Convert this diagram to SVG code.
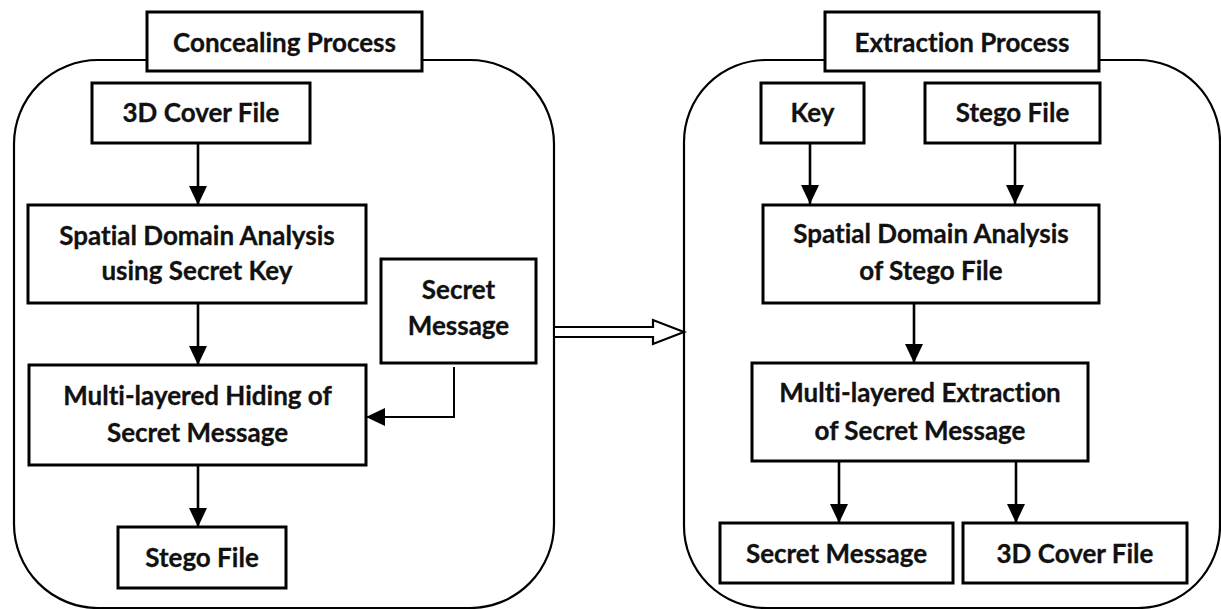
<svg xmlns="http://www.w3.org/2000/svg" width="1221" height="609" viewBox="0 0 1221 609">
  <style>
    .panel { fill: none; stroke: #000; stroke-width: 2.2; }
    .box { fill: #fff; stroke: #000; stroke-width: 3; }
    .lbl { font-family: Lato, "Liberation Sans", sans-serif; font-weight: bold; font-size: 26px; fill: #111; text-anchor: middle; font-variant-ligatures: none; stroke: #111; stroke-width: 0.3; }
    .link { fill: none; stroke: #000; stroke-width: 2.6; }
    .thin { fill: none; stroke: #000; stroke-width: 2; }
    .hollow { fill: #fff; stroke: #000; stroke-width: 2.2; stroke-linejoin: miter; }
  </style>
  <defs>
    <marker id="head" viewBox="0 0 19 18" refX="19" refY="9" markerWidth="19" markerHeight="18" markerUnits="userSpaceOnUse" orient="auto">
      <path d="M0,0 L19,9 L0,18 z" fill="#000"/>
    </marker>
  </defs>
  <rect width="1221" height="609" fill="#fff"/>

  <!-- process panels -->
  <g id="panels">
    <rect class="panel" x="14" y="60" width="540" height="548" rx="84" ry="84"/>
    <rect class="panel" x="684" y="60" width="536" height="548" rx="82" ry="82"/>
  </g>

  <!-- concealing side -->
  <g id="concealing-title">
    <rect class="box" x="147" y="12" width="275" height="59"/>
    <text class="lbl" x="284.5" y="52">Concealing Process</text>
  </g>
  <g id="cover-file-in">
    <rect class="box" x="92" y="83" width="218" height="60"/>
    <text class="lbl" x="201" y="122">3D Cover File</text>
  </g>
  <g id="spatial-analysis">
    <rect class="box" x="28" y="205" width="338" height="98"/>
    <text class="lbl" x="197" y="245">Spatial Domain Analysis</text>
    <text class="lbl" x="197" y="280">using Secret Key</text>
  </g>
  <g id="secret-message-in">
    <rect class="box" x="381" y="259" width="155" height="104"/>
    <text class="lbl" x="458.5" y="299">Secret</text>
    <text class="lbl" x="458.5" y="335">Message</text>
  </g>
  <g id="hiding">
    <rect class="box" x="29" y="365" width="337" height="100"/>
    <text class="lbl" x="197.5" y="405">Multi-layered Hiding of</text>
    <text class="lbl" x="197.5" y="442">Secret Message</text>
  </g>
  <g id="stego-file-out">
    <rect class="box" x="118" y="527" width="168" height="61"/>
    <text class="lbl" x="202" y="567">Stego File</text>
  </g>

  <!-- extraction side -->
  <g id="extraction-title">
    <rect class="box" x="825" y="12" width="274" height="59"/>
    <text class="lbl" x="962" y="52">Extraction Process</text>
  </g>
  <g id="key">
    <rect class="box" x="761" y="83" width="103" height="60"/>
    <text class="lbl" x="812.5" y="122">Key</text>
  </g>
  <g id="stego-file-in">
    <rect class="box" x="925" y="83" width="175" height="60"/>
    <text class="lbl" x="1012.5" y="122">Stego File</text>
  </g>
  <g id="stego-analysis">
    <rect class="box" x="763" y="205" width="336" height="98"/>
    <text class="lbl" x="931" y="243">Spatial Domain Analysis</text>
    <text class="lbl" x="931" y="280">of Stego File</text>
  </g>
  <g id="extraction">
    <rect class="box" x="752" y="363" width="336" height="98"/>
    <text class="lbl" x="920" y="402">Multi-layered Extraction</text>
    <text class="lbl" x="920" y="440">of Secret Message</text>
  </g>
  <g id="secret-message-out">
    <rect class="box" x="720" y="523" width="233" height="60"/>
    <text class="lbl" x="836.5" y="563">Secret Message</text>
  </g>
  <g id="cover-file-out">
    <rect class="box" x="963" y="523" width="224" height="60"/>
    <text class="lbl" x="1075" y="563">3D Cover File</text>
  </g>

  <!-- connectors -->
  <g id="connectors">
    <line class="link" x1="198" y1="144" x2="198" y2="205" marker-end="url(#head)"/>
    <line class="link" x1="198" y1="304" x2="198" y2="365" marker-end="url(#head)"/>
    <line class="link" x1="198" y1="466" x2="198" y2="527" marker-end="url(#head)"/>
    <polyline class="thin" points="454,367 454,417 366,417" marker-end="url(#head)"/>
    <line class="link" x1="810" y1="144" x2="810" y2="204" marker-end="url(#head)"/>
    <line class="link" x1="1015" y1="144" x2="1015" y2="204" marker-end="url(#head)"/>
    <line class="link" x1="914" y1="304" x2="914" y2="363" marker-end="url(#head)"/>
    <line class="link" x1="839" y1="462" x2="839" y2="523" marker-end="url(#head)"/>
    <line class="link" x1="1016" y1="462" x2="1016" y2="523" marker-end="url(#head)"/>
    <path class="hollow" d="M555,327 L653,327 L653,320 L684,332 L653,344 L653,337 L555,337"/>
  </g>
</svg>
